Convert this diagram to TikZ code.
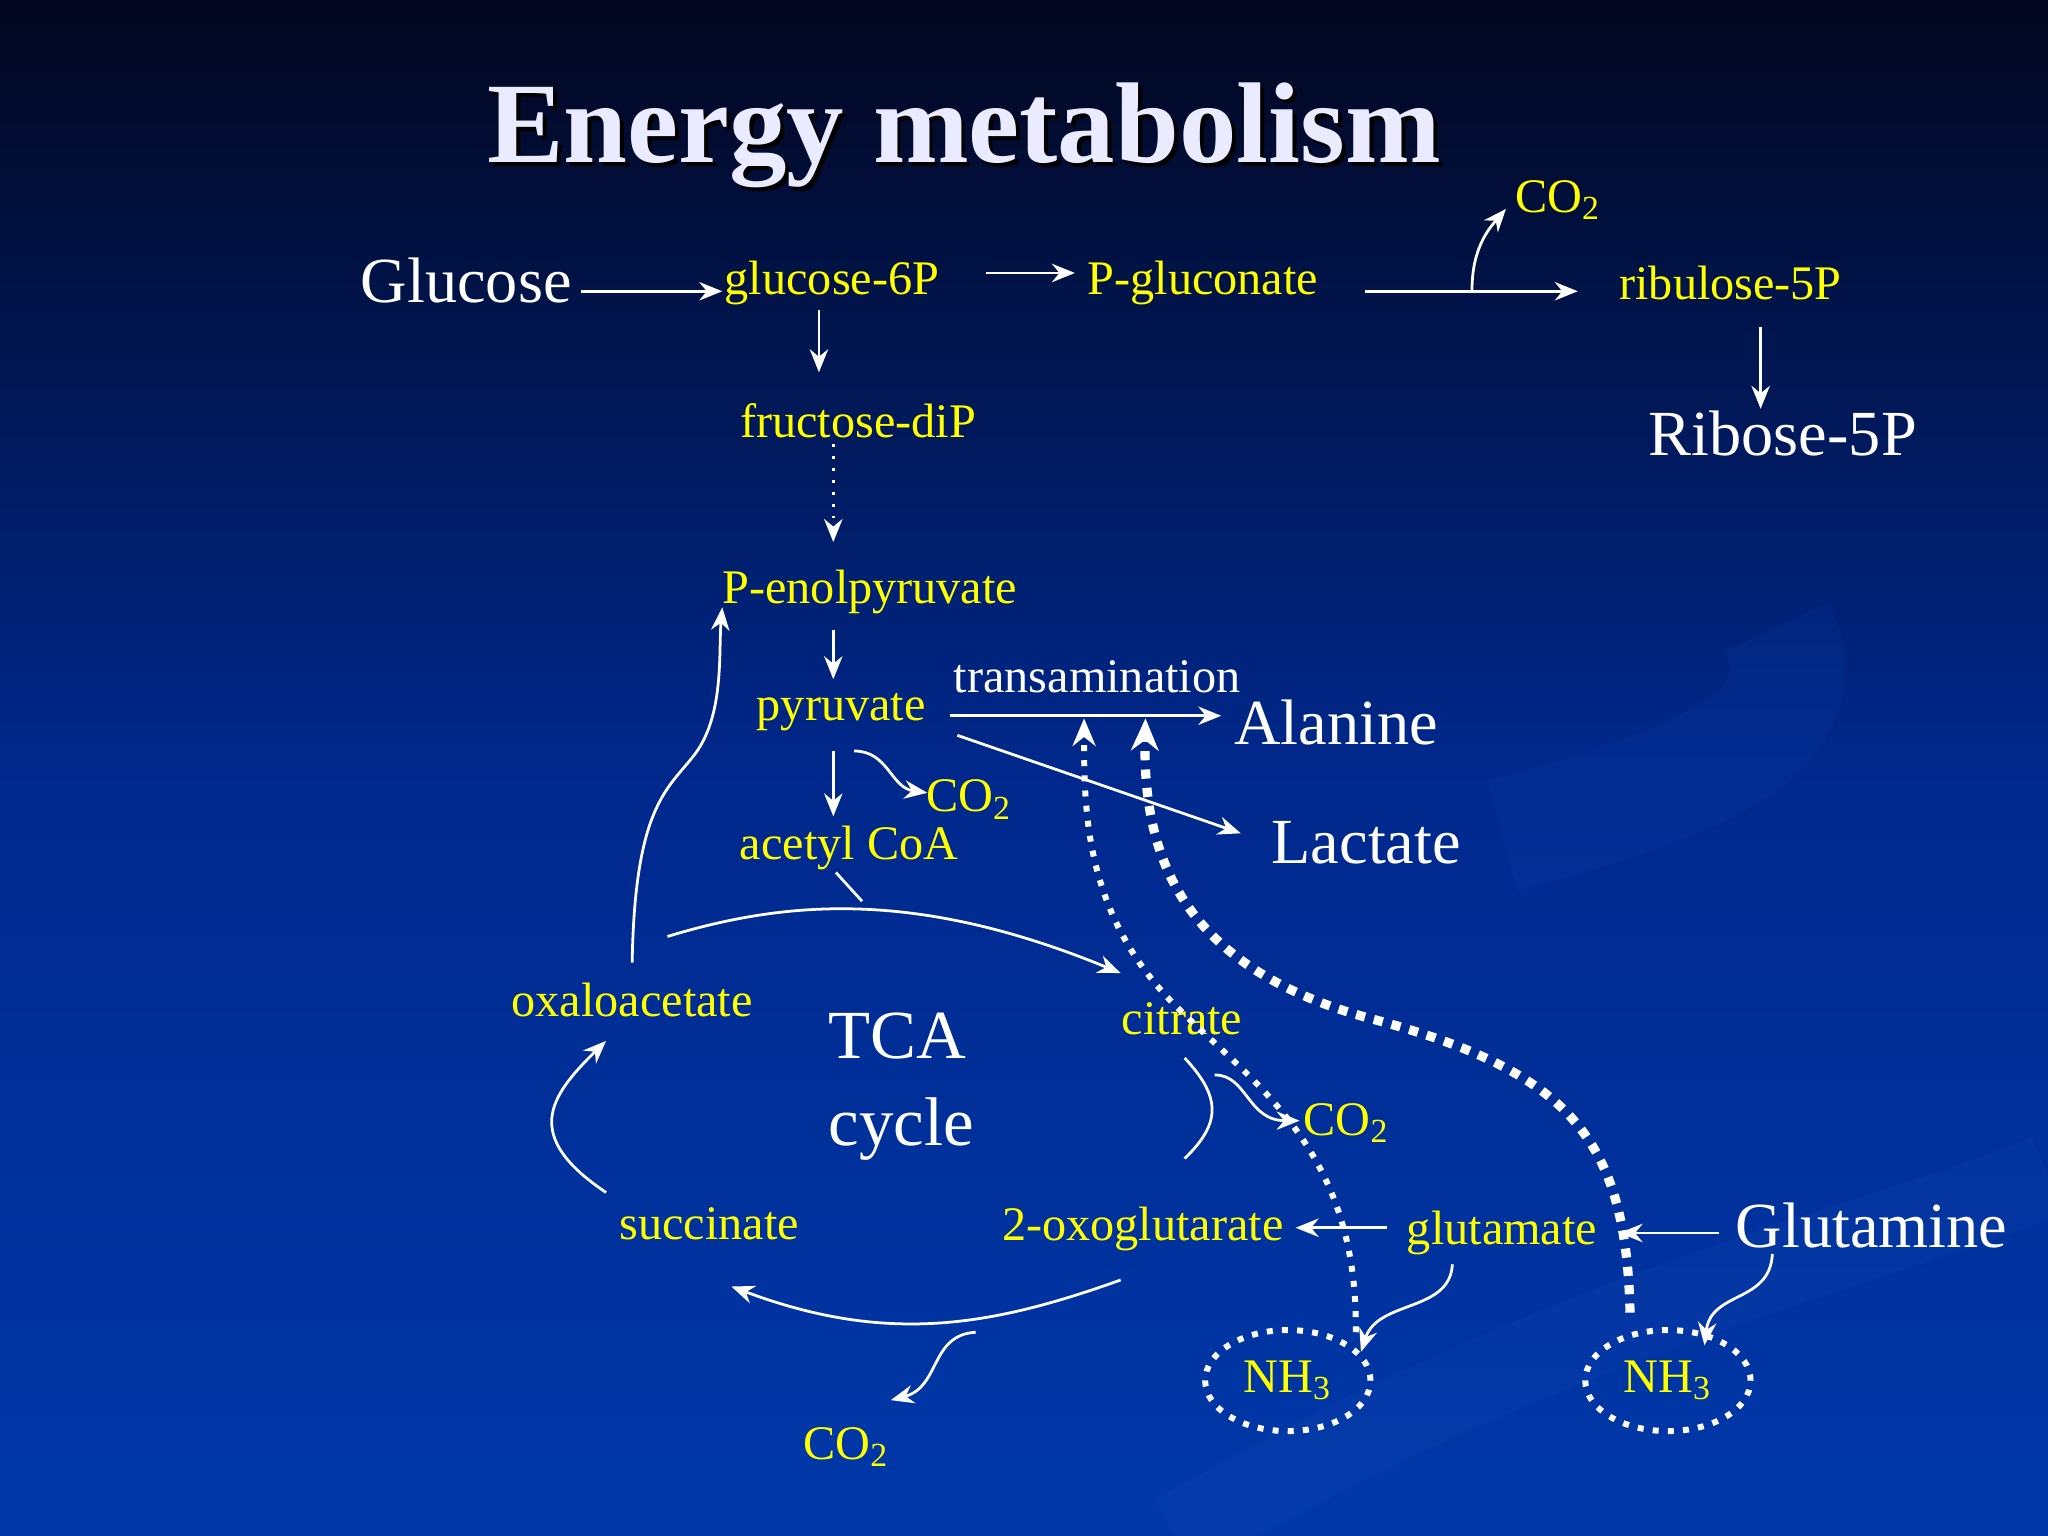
\documentclass[tikz,border=0pt]{standalone}
\usepackage{fontspec}
\setmainfont{Liberation Serif}
\usetikzlibrary{arrows.meta,shapes.geometric}
\definecolor{ylw}{RGB}{255,255,0}
\definecolor{ttl}{RGB}{235,235,255}
\definecolor{swoosh}{RGB}{20,70,180}
\definecolor{bgtop}{RGB}{2,6,30}
\definecolor{bgmid}{RGB}{0,40,140}
\definecolor{bgbot}{RGB}{0,56,170}
\begin{document}
\begin{tikzpicture}[x=0.01cm,y=-0.01cm,
  yl/.style={text=ylw,font=\fontsize{10.5}{12}\selectfont,inner sep=1pt},
  wb/.style={text=white,font=\fontsize{14}{16}\selectfont,inner sep=1pt},
  ws/.style={text=white,font=\fontsize{10.5}{12}\selectfont,inner sep=1pt},
  ar/.style={draw=white,line width=0.6pt,-{Stealth[length=5pt,width=4pt]}},
  ln/.style={draw=white,line width=0.6pt},
  dt/.style={draw=white,line width=1.3pt,dotted,-{Stealth[length=6pt,width=5pt]}},
  dtt/.style={draw=white,line width=2pt,dash pattern=on 2pt off 2pt,-{Stealth[length=7pt,width=6pt]}},
  nh/.style={ellipse,draw=white,line width=1.3pt,dotted,minimum width=36pt,minimum height=22pt,inner sep=0pt,text=ylw,font=\fontsize{10.5}{12}\selectfont}]
\shade[top color=bgtop,bottom color=bgbot,middle color=bgmid] (0,0) rectangle (1568,1176);
\useasboundingbox (0,0) rectangle (1568,1176);
\draw[line width=18pt,swoosh,opacity=0.2] (900,1176) .. controls (1200,1000) and (1450,950) .. (1568,900);
\draw[line width=25pt,swoosh,opacity=0.15] (1150,640) .. controls (1300,600) and (1400,560) .. (1360,480);
% title
\node[text=black,font=\fontsize{25}{30}\selectfont\bfseries] at (741,107) {Energy metabolism};
\node (title) [text=ttl,font=\fontsize{25}{30}\selectfont\bfseries] at (738,104) {Energy metabolism};
% nodes
\node (glc) [wb] at (357,215) {Glucose};
\node (g6p) [yl] at (637,217) {glucose-6P};
\node (pgl) [yl] at (921,217) {P-gluconate};
\node (ru5p) [yl] at (1325,217) {ribulose-5P};
\node (co2a) [yl] at (1193,153) {CO\textsubscript{2}};
\node (r5p) [wb] at (1365,332) {Ribose-5P};
\node (fdp) [yl] at (657,322) {fructose-diP};
\node (pep) [yl] at (666,453) {P-enolpyruvate};
\node (pyr) [yl] at (644,545) {pyruvate};
\node (trans) [ws] at (840,518) {transamination};
\node (ala) [wb] at (1023,553) {Alanine};
\node (lac) [wb] at (1046,645) {Lactate};
\node (co2b) [yl] at (742,612) {CO\textsubscript{2}};
\node (acoa) [yl] at (650,649) {acetyl CoA};
\node (oaa) [yl] at (484,766) {oxaloacetate};
\node (tca) [wb,align=left,font=\fontsize{15}{19}\selectfont] at (690,832) {TCA\\cycle};
\node (cit) [yl] at (905,780) {citrate};
\node (co2c) [yl] at (1031,860) {CO\textsubscript{2}};
\node (suc) [yl] at (543,937) {succinate};
\node (oxo) [yl] at (875,941) {2-oxoglutarate};
\node (glu) [yl] at (1150,944) {glutamate};
\node (gln) [wb] at (1433,938) {Glutamine};
\node (nh1) [nh] at (986,1057) {NH\textsubscript{3}};
\node (nh2) [nh] at (1277,1057) {NH\textsubscript{3}};
\node (co2d) [yl] at (648,1108) {CO\textsubscript{2}};
% coordinates
\coordinate (br) at (1127,222);
\coordinate (acj) at (660,690);
% arrows
\draw[ar] (445,223) -- (553,223);
\draw[ar] (755,209) -- (823,209);
\draw[ar] (1045,223) -- (1208,223);
\draw[ar] (br) .. controls (1127,190) and (1140,175) .. (1153,160);
\draw[ar] (1348,250) -- (1348,313);
\draw[ar] (627,237) -- (627,285);
\draw[ar,dotted] (638,340) -- (638,415);
\draw[ar] (638,482) -- (638,520);
\draw[ar] (638,575) -- (638,625);
\draw[ar] (654,575) .. controls (680,575) and (682,603) .. (710,607);
\draw[ar] (727,548) -- (935,548);
\draw[ar] (733,563) -- (950,638);
\draw[ln] (640,668) -- (acj);
\draw[ar] (511,717) .. controls (600,690) and (700,680) .. (858,745);
\draw[ar] (484,737) .. controls (486,620) and (510,605) .. (530,580) .. controls (555,550) and (550,500) .. (553,465);
\draw[ln] (907,810) .. controls (935,840) and (935,860) .. (907,887);
\draw[ar] (930,823) .. controls (955,823) and (955,858) .. (995,858);
\draw[ar] (858,980) .. controls (760,1015) and (680,1030) .. (560,985);
\draw[ar] (747,1020) .. controls (712,1022) and (720,1062) .. (682,1072);
\draw[ar] (464,913) .. controls (400,870) and (420,840) .. (464,797);
\draw[ar] (1062,940) -- (992,940);
\draw[ar] (1316,944) -- (1240,944);
\draw[ar] (1112,968) .. controls (1110,1005) and (1055,995) .. (1042,1035);
\draw[ar] (1357,960) .. controls (1355,998) and (1310,988) .. (1305,1030);
\draw[dt] (1038,1020) .. controls (1040,880) and (960,830) .. (900,770) .. controls (830,700) and (830,620) .. (830,550);
\draw[dtt] (1248,1005) .. controls (1245,870) and (1200,820) .. (1050,780) .. controls (900,740) and (875,650) .. (877,550);
\end{tikzpicture}
\end{document}
